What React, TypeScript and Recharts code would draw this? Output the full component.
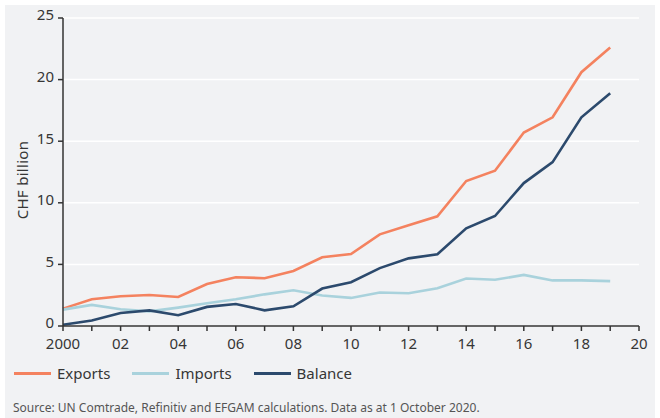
import { LineChart, Line, XAxis, YAxis, CartesianGrid } from 'recharts';

const years = [2000, 2001, 2002, 2003, 2004, 2005, 2006, 2007, 2008, 2009, 2010, 2011, 2012, 2013, 2014, 2015, 2016, 2017, 2018, 2019];
const exportsValues = [1.41, 2.17, 2.41, 2.52, 2.36, 3.41, 3.96, 3.88, 4.47, 5.58, 5.84, 7.44, 8.18, 8.9, 11.77, 12.6, 15.7, 16.94, 20.6, 22.6];
const importsValues = [1.33, 1.71, 1.36, 1.19, 1.49, 1.84, 2.17, 2.57, 2.9, 2.47, 2.28, 2.72, 2.66, 3.07, 3.86, 3.75, 4.15, 3.7, 3.7, 3.64];
const balanceValues = [0.1, 0.45, 1.05, 1.27, 0.87, 1.55, 1.79, 1.27, 1.6, 3.04, 3.55, 4.7, 5.49, 5.82, 7.93, 8.93, 11.6, 13.3, 16.94, 18.9];
const xTicks = [2000, 2001, 2002, 2003, 2004, 2005, 2006, 2007, 2008, 2009, 2010, 2011, 2012, 2013, 2014, 2015, 2016, 2017, 2018, 2019, 2020];
const yTicks = [0, 5, 10, 15, 20, 25];

const series = [
  { key: 'exports', name: 'Exports', color: '#f4825f' },
  { key: 'imports', name: 'Imports', color: '#a9d2dc' },
  { key: 'balance', name: 'Balance', color: '#2c4a6d' },
];

const data = years.map((year, i) => ({
  year,
  exports: exportsValues[i],
  imports: importsValues[i],
  balance: balanceValues[i],
}));

const font = '"Noto Sans", sans-serif';
const textColor = '#363636';
const axisColor = '#333';

const formatYear = (y: number) => {
  if (y % 2 !== 0) return '';
  if (y === 2000) return '2000';
  return String(y % 100).padStart(2, '0');
};

export default function App() {
  return (
    <div style={{ position: 'absolute', left: 0, top: 0, width: 660, height: 418, background: '#fff', fontFamily: font }}>
      <div style={{ position: 'absolute', left: 5, top: 5, width: 650, height: 413, background: '#f1f2f4' }} />
      <div style={{ position: 'absolute', left: 0, top: 0 }}>
        <LineChart width={660} height={360} data={data} margin={{ top: 18, right: 21, left: 12, bottom: 4 }}>
          <CartesianGrid vertical={false} stroke="#ffffff" strokeWidth={1.5} />
          <XAxis
            dataKey="year"
            type="number"
            domain={[2000, 2020]}
            ticks={xTicks}
            interval={0}
            tickFormatter={formatYear}
            height={30}
            stroke={axisColor}
            strokeWidth={1.5}
            tickSize={5}
            tick={{ fill: textColor, fontSize: 15, fontFamily: font, dy: 5 }}
          />
          <YAxis
            type="number"
            domain={[0, 25]}
            ticks={yTicks}
            width={51}
            stroke={axisColor}
            strokeWidth={1.5}
            tickSize={5}
            tick={{ fill: textColor, fontSize: 15, fontFamily: font, dx: -2, dy: -3 }}
          />
          {series.map((s) => (
            <Line
              key={s.key}
              dataKey={s.key}
              name={s.name}
              stroke={s.color}
              strokeWidth={2.6}
              dot={false}
              isAnimationActive={false}
            />
          ))}
        </LineChart>
      </div>
      <div
        style={{
          position: 'absolute',
          left: 22,
          top: 180,
          transform: 'translate(-50%, -50%) rotate(-90deg)',
          fontSize: 15,
          color: textColor,
          whiteSpace: 'nowrap',
          letterSpacing: 0.3,
        }}
      >
        CHF billion
      </div>
      <div style={{ position: 'absolute', left: 14, top: 363, display: 'flex', alignItems: 'center', fontSize: 15, color: textColor }}>
        {series.map((s) => (
          <div key={s.key} style={{ display: 'flex', alignItems: 'center', marginRight: 22 }}>
            <span style={{ display: 'inline-block', width: 37, height: 3, background: s.color, marginRight: 6 }} />
            <span>{s.name}</span>
          </div>
        ))}
      </div>
      <div style={{ position: 'absolute', left: 13, top: 399, fontSize: 12, color: '#555' }}>
        Source: UN Comtrade, Refinitiv and EFGAM calculations. Data as at 1 October 2020.
      </div>
    </div>
  );
}
